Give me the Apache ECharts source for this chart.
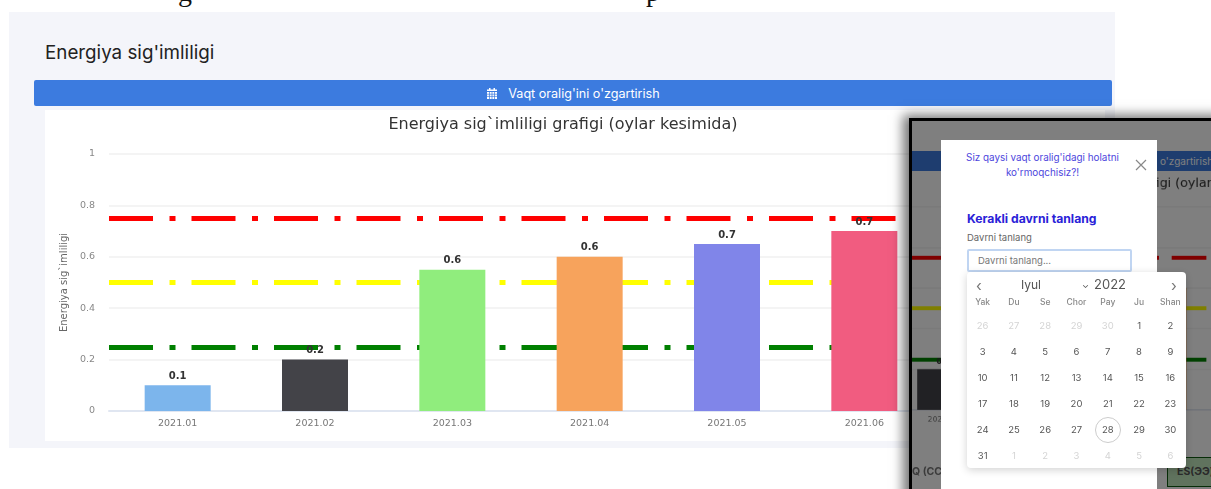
<!DOCTYPE html>
<html>
<head>
<meta charset="UTF-8" />
<title>Energiya sig'imliligi</title>
<script src="https://cdn.jsdelivr.net/npm/echarts@6/dist/echarts.min.js"></script>
<style>
  html, body { margin: 0; height: 489px; overflow: hidden; background: #fff; font-family: Inter, "Noto Sans", sans-serif; }
  .abs { position: absolute; }
  .cut { font-family: "Liberation Serif", serif; font-size: 28px; line-height: 30px; color: #111; }
  #panel { left: 9px; top: 12px; width: 1106px; height: 436px; background: #f4f5fa; }
  #heading { left: 45px; top: 42px; font-size: 18.8px; line-height: 22px; color: #222; white-space: nowrap; }
  .btn { background: #3c7bdf; color: #fff; border-radius: 2px; font-size: 12.6px; text-align: center; }
  #btn { left: 34px; top: 80px; width: 1078px; height: 26px; line-height: 27px; }
  #btn svg { vertical-align: -2px; margin-right: 10px; }
  #chartBg { left: 45px; top: 110px; width: 1060px; height: 331px; background: #fff; }
  #mainChart { left: 45px; top: 110px; width: 1036px; height: 331px; }
  /* screenshot pasted on top of the page */
  #shot { left: 909px; top: 118px; width: 320px; height: 390px; background: #fff; border: 3px solid #000; overflow: hidden; box-shadow: -3px 0 11px 3px rgba(0,0,0,.55); }
  #shot .in { position: absolute; }
  #innerChart { left: -182px; top: 51px; width: 1036px; height: 331px; transform: scale(.79); transform-origin: 0 0; }
  #innerBtn { left: 0; top: 30px; width: 320px; height: 20px; line-height: 20px; font-size: 10px; text-align: left; padding-left: 248px; box-sizing: border-box; border-radius: 0; }
  #tblL { left: 0; top: 344px; font-weight: 700; font-size: 10.5px; color: #777; white-space: nowrap; }
  #tblR { left: 255px; top: 336px; width: 80px; height: 30px; background: #c1e6bd; border: 1px solid #0e5a10; font-weight: 700; font-size: 10.5px; color: #555; line-height: 28px; padding-left: 9px; box-sizing: border-box; }
  #mask { left: 0; top: 0; width: 100%; height: 100%; background: rgba(0,0,0,.5); }
  #modal { left: 941px; top: 140px; width: 216px; height: 349px; background: #fff; }
  #ask { left: 962px; top: 150px; width: 161px; text-align: center; font-size: 9.9px; line-height: 14.5px; color: #4d46dd; }
  #close { left: 1134px; top: 158px; }
  #pick { left: 967px; top: 212px; font-size: 12.2px; line-height: 14px; font-weight: 700; color: #2a22d8; white-space: nowrap; }
  #pickLabel { left: 967px; top: 231px; font-size: 9.5px; line-height: 13px; color: #666; white-space: nowrap; }
  #input { left: 967px; top: 249px; width: 165px; height: 23px; box-sizing: border-box; border: 2px solid #c0d5f2; border-radius: 2px; font-size: 9.5px; line-height: 19px; color: #777; padding-left: 9px; }
  #cal { left: 967px; top: 272px; width: 219px; height: 196px; background: #fff; border-radius: 4px; box-shadow: 0 2px 8px rgba(0,0,0,.18); color: #555; }
  #month { left: 54px; top: 5px; font-size: 12px; line-height: 16px; color: #555; }
  #monthDrop { left: 115px; top: 5px; font-size: 9px; line-height: 16px; color: #555; }
  #year { left: 127px; top: 4px; font-size: 13px; line-height: 17px; color: #555; }
  #prev { left: 9px; top: 6px; font-size: 15px; line-height: 16px; color: #777; }
  #next { left: 204px; top: 6px; font-size: 15px; line-height: 16px; color: #777; }
  #weeks, #days { left: 0; width: 219px; display: grid; grid-template-columns: repeat(7, 1fr); text-align: center; }
  #weeks { top: 24px; font-size: 8.5px; line-height: 13px; color: #888; font-weight: 500; }
  #days { top: 41px; font-size: 9.5px; grid-auto-rows: 26px; line-height: 26px; }
  #days .off { color: #d4d4d4; }
  #days .today span { display: inline-block; width: 26px; height: 26px; line-height: 24px; box-sizing: border-box; border: 1px solid #ccc; border-radius: 50%; }
</style>
</head>
<body>
  <div class="abs cut" style="left:178px;top:-23px">g</div>
  <div class="abs cut" style="left:646px;top:-23px">p</div>
  <div class="abs" id="panel"></div>
  <div class="abs" id="heading">Energiya sig'imliligi</div>
  <div class="abs btn" id="btn">
    <svg width="12" height="12" viewBox="0 0 12 12"><path fill="#fff" d="M1 4h10v7H1zM1 1.5h2V0h1.5v1.5h3V0H9v1.5h2V3H1z"/><path stroke="#3c7bdf" stroke-width=".7" d="M1 6.2h10M1 8.4h10M3.5 4v7M6 4v7M8.5 4v7"/></svg>Vaqt oralig'ini o'zgartirish
  </div>
  <div class="abs" id="chartBg"></div>
  <div class="abs" id="mainChart"></div>

  <div class="abs" id="shot">
    <div class="in" id="innerChart"></div>
    <div class="in btn" id="innerBtn">o'zgartirish</div>
    <div class="in" id="tblL">Q (CC:</div>
    <div class="in" id="tblR">ES(ЭЭ)</div>
    <div class="in" id="mask"></div>
  </div>
  <div class="abs" id="modal"></div>
  <div class="abs" id="ask">Siz qaysi vaqt oralig'idagi holatni ko'rmoqchisiz?!</div>
  <svg class="abs" id="close" width="14" height="14" viewBox="0 0 14 14"><path stroke="#888" stroke-width="1.2" d="M2 2l10 10M12 2L2 12"/></svg>
  <div class="abs" id="pick">Kerakli davrni tanlang</div>
  <div class="abs" id="pickLabel">Davrni tanlang</div>
  <div class="abs" id="input">Davrni tanlang...</div>
  <div class="abs" id="cal">
    <div class="abs" id="prev">‹</div>
    <div class="abs" id="month">Iyul</div>
    <div class="abs" id="monthDrop">⌄</div>
    <div class="abs" id="year">2022</div>
    <div class="abs" id="next">›</div>
    <div class="abs" id="weeks"></div>
    <div class="abs" id="days"></div>
  </div>

<script>
  const categories = ["2021.01", "2021.02", "2021.03", "2021.04", "2021.05", "2021.06"];
  const energyValues = [0.1, 0.2, 0.55, 0.6, 0.65, 0.7];
  const barColors = ["#7cb5ec", "#434348", "#90ed7d", "#f7a35c", "#8085e9", "#f15c80"];
  const limitValues = [0.75, 0.5, 0.25];
  const limitColors = ["#ff0000", "#ffff00", "#008000"];
  const yTicks = { min: 0, max: 1, interval: 0.2 };
  const weekNames = ["Yak", "Du", "Se", "Chor", "Pay", "Ju", "Shan"];
  const prevDays = [26, 27, 28, 29, 30];
  const monthDays = 31;
  const nextDays = [1, 2, 3, 4, 5, 6];
  const today = 28;

  const chartFont = "DejaVu Sans";

  function chartOption() {
    return {
      animation: false,
      textStyle: { fontFamily: chartFont },
      title: {
        text: "Energiya sig`imliligi grafigi (oylar kesimida)",
        left: "center",
        top: 2,
        textStyle: { fontSize: 16, fontWeight: "normal", color: "#333", fontFamily: chartFont },
      },
      grid: { left: 64, top: 44, width: 824, height: 257 },
      xAxis: {
        type: "category",
        data: categories,
        axisTick: { show: false },
        axisLine: { lineStyle: { color: "#e0e6f1", width: 2 } },
        axisLabel: { color: "#777", fontSize: 9.5, margin: 8 },
      },
      yAxis: {
        type: "value",
        min: yTicks.min,
        max: yTicks.max,
        interval: yTicks.interval,
        name: "Energiya sig`imliligi",
        nameLocation: "middle",
        nameGap: 38,
        nameTextStyle: { color: "#666", fontSize: 10 },
        axisLabel: { color: "#888", fontSize: 9.5, margin: 14 },
        splitLine: { lineStyle: { color: "#f0f0f0", width: 1.5 } },
      },
      series: [
        {
          type: "bar",
          barWidth: 66,
          z: 2,
          data: energyValues.map((v, i) => ({ value: v, itemStyle: { color: barColors[i] } })),
          label: {
            show: true,
            position: "top",
            distance: 4,
            fontSize: 10,
            fontWeight: "bold",
            color: "#333",
            formatter: (p) => p.value.toFixed(1),
          },
          markLine: {
            silent: true,
            z: 1,
            symbol: "none",
            animation: false,
            label: { show: false },
            data: limitValues.map((v, i) => ({
              yAxis: v,
              lineStyle: { color: limitColors[i], width: 5, type: [44, 16.5, 6, 16], opacity: 1 },
            })),
          },
        },
      ],
    };
  }

  let myChart = echarts.init(document.getElementById("mainChart"));
  myChart.setOption(chartOption());
  let innerChart = echarts.init(document.getElementById("innerChart"));
  innerChart.setOption(chartOption());

  // date picker cells
  document.getElementById("weeks").innerHTML = weekNames.map((w) => "<div>" + w + "</div>").join("");
  let cells = prevDays.map((d) => '<div class="off">' + d + "</div>");
  for (let d = 1; d <= monthDays; d++) {
    if (d === today) cells.push('<div class="today"><span>' + d + "</span></div>");
    else cells.push("<div>" + d + "</div>");
  }
  nextDays.forEach((d) => cells.push('<div class="off">' + d + "</div>"));
  document.getElementById("days").innerHTML = cells.join("");
</script>
</body>
</html>
